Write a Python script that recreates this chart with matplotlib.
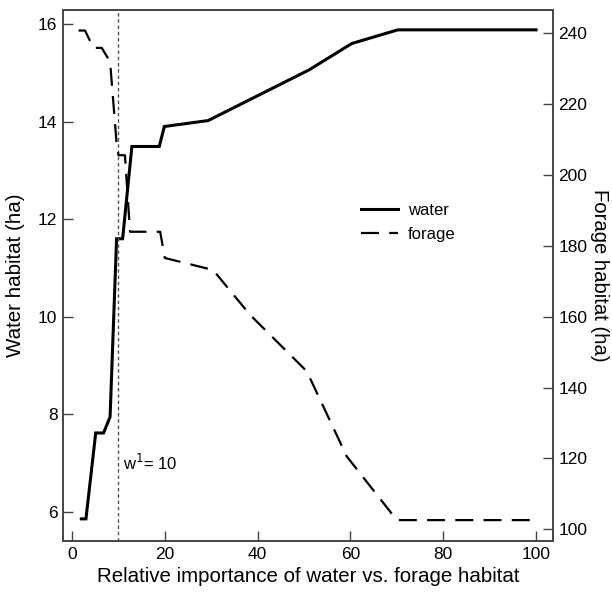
import numpy as np
import matplotlib.pyplot as plt

plt.rcParams['font.family'] = ['Liberation Sans', 'DejaVu Sans']

# values
water_x = [2, 3, 5.1, 6.8, 8.2, 9.6, 10.9, 12.9, 18.8, 19.9, 29.3, 51.1, 60.3, 70.2, 100]
water_y = [5.86, 5.86, 7.62, 7.62, 7.95, 11.6, 11.6, 13.49, 13.49, 13.9, 14.02, 15.06, 15.6, 15.88, 15.88]

forage_x = [1.4, 2.8, 4.6, 6.4, 8.2, 9.6, 10.0, 11.4, 12.5, 19, 20, 30.4, 38.4, 50.6, 59.2, 70, 100]
forage_y = [240.8, 240.8, 235.9, 235.9, 232, 209, 205.6, 205.6, 184, 184, 176.6, 173.2, 160.5, 144.6, 120.6, 102.6, 102.6]

w1 = 10

fig = plt.figure(figsize=(6.12, 5.94), dpi=100)
ax = fig.add_axes([0.103, 0.0892, 0.8006, 0.894])
ax2 = ax.twinx()

l1, = ax.plot(water_x, water_y, color='black', lw=2.2, label='water',
              solid_joinstyle='miter')
l2, = ax2.plot(forage_x, forage_y, color='black', lw=1.6, label='forage',
               linestyle=(0, (8.1, 4.6)))
ax.axvline(w1, color='#555555', lw=1.0, linestyle=(0, (2.5, 2)))
ax.text(11, 7.0, r'w$^{1}$= 10', fontsize=12, va='center', ha='left')

ax.set_xlim(-1.94, 103.66)
ax.set_ylim(5.406, 16.287)
ax2.set_ylim(96.7, 246.6)

ax.set_xticks([0, 20, 40, 60, 80, 100])
ax.set_yticks([6, 8, 10, 12, 14, 16])
ax2.set_yticks([100, 120, 140, 160, 180, 200, 220, 240])

for a in (ax, ax2):
    a.tick_params(direction='in', length=7.5, width=1.0, labelsize=12.5,
                  color='#444444', pad=4)
    for s in a.spines.values():
        s.set_color('#444444')
        s.set_linewidth(1.2)

ax.set_xlabel('Relative importance of water vs. forage habitat', fontsize=14.8, labelpad=4)
ax.set_ylabel('Water habitat (ha)', fontsize=14.8, va='center')
ax.yaxis.set_label_coords(-0.098, 0.5)
ax2.set_ylabel('Forage habitat (ha)', fontsize=14.6, rotation=270, va='center')
ax2.yaxis.set_label_coords(1.095, 0.5)

ax.legend([l1, l2], ['water', 'forage'], frameon=False, fontsize=12,
          loc='center left', bbox_to_anchor=(0.578, 0.6), handlelength=2.2,
          handletextpad=0.6, labelspacing=0.5)

fig.savefig('out.png', dpi=100)
